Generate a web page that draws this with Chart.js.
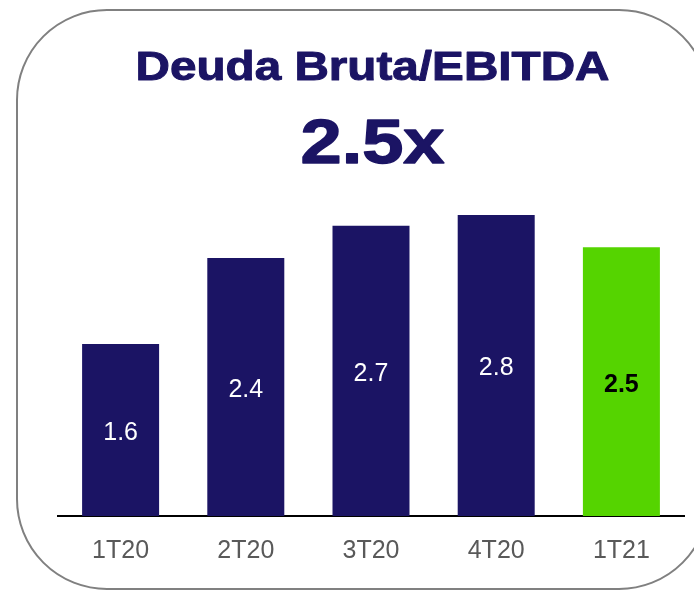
<!DOCTYPE html>
<html>
<head>
<meta charset="utf-8">
<script src="https://cdn.jsdelivr.net/npm/chart.js@4.4.1/dist/chart.umd.min.js"></script>
<style>
  html, body { margin: 0; padding: 0; background: #fff; }
  #wrap { width: 694px; height: 590px; position: relative; }
</style>
</head>
<body>
<div id="wrap"><canvas id="chart" width="694" height="590"></canvas></div>
<script>
// data
const quarters = ['1T20', '2T20', '3T20', '4T20', '1T21'];
const ratios = [1.6, 2.4, 2.7, 2.8, 2.5];
const barColors = ['#1B1464', '#1B1464', '#1B1464', '#1B1464', '#55D400'];
const labelColors = ['#ffffff', '#ffffff', '#ffffff', '#ffffff', '#000000'];
const titleText = 'Deuda Bruta/EBITDA';
const headlineText = '2.5x';

const NAVY = '#1B1464';
const FONT = '"Liberation Sans", Arial, sans-serif';

// draw text stretched horizontally to a given width (the original heading is wide and heavy)
function wideText(ctx, text, cx, baseline, size, width, weight) {
  ctx.font = 'bold ' + size + 'px ' + FONT;
  const w = ctx.measureText(text).width;
  ctx.save();
  ctx.translate(cx, baseline);
  ctx.scale(width / w, 1);
  ctx.fillText(text, 0, 0);
  ctx.lineWidth = weight;
  ctx.lineJoin = 'round';
  ctx.strokeText(text, 0, 0);
  ctx.restore();
}

// rounded box + big heading text
const framePlugin = {
  id: 'frame',
  beforeDraw(chart) {
    const ctx = chart.ctx;
    ctx.save();
    ctx.strokeStyle = '#808080';
    ctx.lineWidth = 2;
    ctx.beginPath();
    ctx.roundRect(17, 10, 692, 579, 90);
    ctx.stroke();

    ctx.fillStyle = NAVY;
    ctx.strokeStyle = NAVY;
    ctx.textAlign = 'center';
    ctx.textBaseline = 'alphabetic';
    wideText(ctx, titleText, 372.5, 80, 41, 474, 1);
    wideText(ctx, headlineText, 372.5, 162.5, 63, 144, 1.4);
    ctx.restore();
  }
};

// value labels centred inside each bar
const valueLabels = {
  id: 'valueLabels',
  afterDatasetsDraw(chart) {
    const ctx = chart.ctx;
    const meta = chart.getDatasetMeta(0);
    ctx.save();
    ctx.textAlign = 'center';
    ctx.textBaseline = 'middle';
    meta.data.forEach((bar, i) => {
      const isLast = i === ratios.length - 1;
      ctx.font = (isLast ? 'bold ' : '') + '25px ' + FONT;
      ctx.fillStyle = labelColors[i];
      ctx.fillText(ratios[i].toFixed(1), bar.x, (bar.y + bar.base) / 2 + 3);
    });
    ctx.restore();
  }
};

new Chart(document.getElementById('chart'), {
  type: 'bar',
  data: {
    labels: quarters,
    datasets: [{
      data: ratios,
      backgroundColor: barColors,
      borderWidth: 0,
      categoryPercentage: 1,
      barPercentage: 0.615
    }]
  },
  options: {
    responsive: false,
    animation: false,
    layout: { padding: { left: 58, right: 10, top: 193.5, bottom: 0 } },
    plugins: {
      legend: { display: false },
      tooltip: { enabled: false }
    },
    scales: {
      x: {
        grid: { display: false, drawTicks: false },
        border: { display: true, color: '#000000', width: 2 },
        ticks: {
          color: '#595959',
          padding: 20,
          font: { family: FONT, size: 25 }
        },
        afterFit(scale) { scale.height = 74; }
      },
      y: {
        display: false,
        min: 0,
        max: 3
      }
    }
  },
  plugins: [framePlugin, valueLabels]
});
</script>
</body>
</html>
